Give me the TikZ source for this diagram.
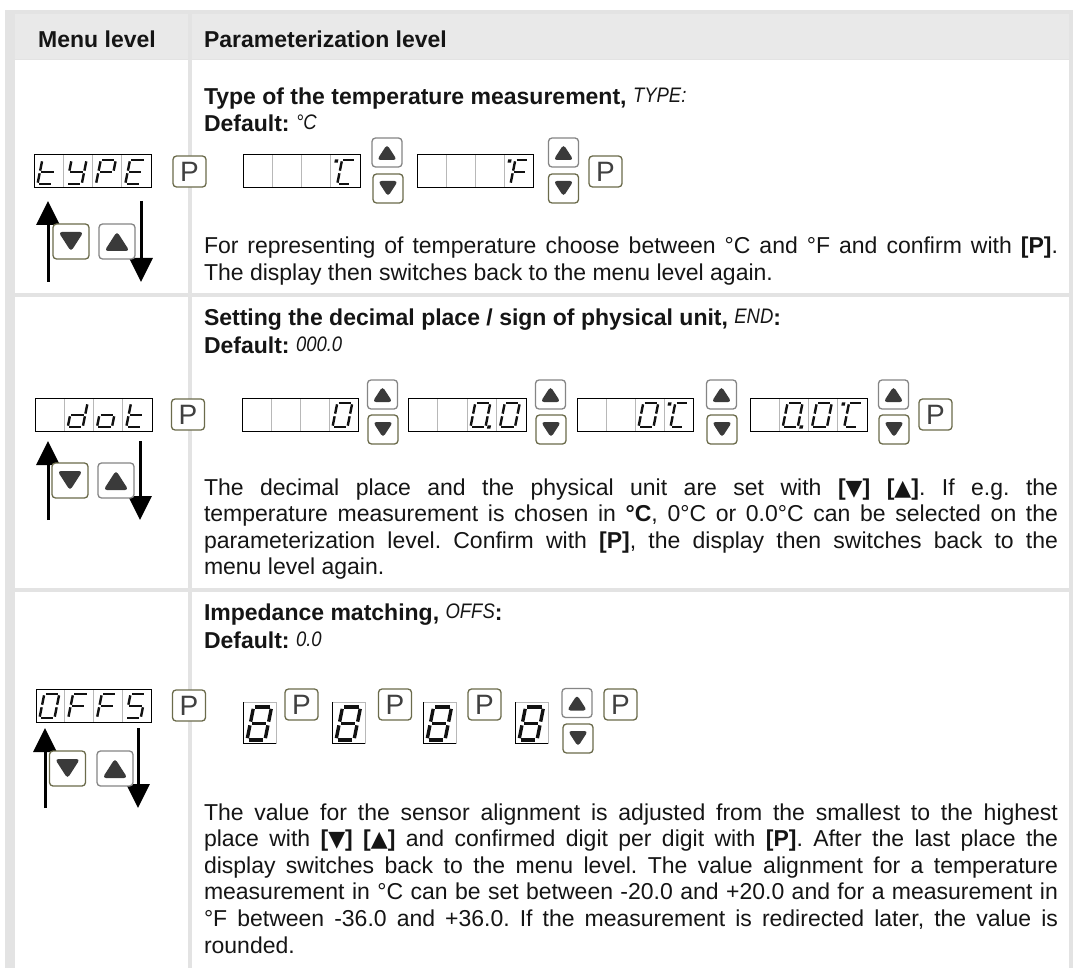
\documentclass[tikz,border=0pt]{standalone}
\usepackage{fontspec}
\setmainfont{Liberation Sans}
\newfontfamily\dvs{DejaVu Sans}
\usetikzlibrary{arrows.meta,calc}
\definecolor{tblgray}{HTML}{E3E3E3}
\definecolor{hdrgray}{HTML}{E9E9E9}
\definecolor{btnol}{HTML}{6B6B4B}
\definecolor{btngr}{HTML}{858585}
\definecolor{trig}{HTML}{3A3A3A}
\definecolor{divg}{HTML}{B8B8B8}
\definecolor{txt}{HTML}{151515}
\definecolor{segcol}{HTML}{111111}
\frenchspacing
\newcommand\fsz{\fontsize{23}{26}\selectfont}
\newcommand\lcd[1]{\raisebox{2pt}{\fontsize{21}{21}\selectfont\mdseries\itshape\scalebox{0.88}[1]{#1}}}
\newcommand\tsym[1]{{\dvs\fontsize{22}{22}\selectfont #1}}
\newcommand\jl[1]{\makebox[854pt][s]{#1}}

% seven segment pieces (local coords, y up)
\def\sgmA{(\gp,\sH) -- (\sW-\gp,\sH)}
\def\sgmB{(\sW,\sH-\gp) -- (\sW,\sH/2+\gp)}
\def\sgmC{(\sW,\sH/2-\gp) -- (\sW,\gp)}
\def\sgmD{(\gp,0) -- (\sW-\gp,0)}
\def\sgmE{(0,\gp) -- (0,\sH/2-\gp)}
\def\sgmF{(0,\sH/2+\gp) -- (0,\sH-\gp)}
\def\sgmG{(\gp,\sH/2) -- (\sW-\gp,\sH/2)}
\def\sgmP{(\sW+3,-0.5) rectangle ++(1,1)}
\def\sgmO{(-6,\sH-1.5) rectangle ++(1,1)}

\newcommand\segchar[6]{%
  \begin{scope}[shift={(#1,#2)},xslant=0.2,x=1pt,y=1pt]
    \def\sW{#3}\def\sH{#4}\pgfmathsetmacro\gp{#5*0.55}
    \foreach \s in {#6}{%
      \expandafter\let\expandafter\thisseg\csname sgm\s\endcsname
      \draw[segcol,line width=#5pt,line cap=butt] \thisseg;}
  \end{scope}}
% character in a 4-cell display: left, right, cell index, bottom, segments
\newcommand\dchar[5]{%
  \pgfmathsetmacro\cx{#1+(#3-1)*(#2-#1)/4+3.5}%
  \segchar{\cx}{#4-4}{15}{24}{2.4}{#5}}
\newcommand\dcharD[5]{%
  \pgfmathsetmacro\cx{#1+(#3-1)*(#2-#1)/4+6.5}%
  \segchar{\cx}{#4-4}{13}{24}{2.4}{#5,O}}
\newcommand\dispbox[5]{%
  \node[dispst,minimum width={#4-#2},minimum height={#5-#3}] (#1) at ({(#2+#4)/2},{(#3+#5)/2}) {};}
\newcommand\digbox[3]{%
  \node[digst] (#1) at ({#2+16.5},{#3+20.5}) {};
  \draw[black,line width=1pt] ({#2},{#3}) -- ({#2},{#3+41}) -- ({#2+33},{#3+41});
  \segchar{#2+4}{#3+38}{18}{33}{3.4}{A,B,C,D,E,F,G}}

\begin{document}
\begin{tikzpicture}[x=1pt,y=-1pt,
  every node/.style={inner sep=0pt,outer sep=0pt},
  hdr/.style={font=\fsz\bfseries,text=txt},
  ttl/.style={anchor=base west,font=\fsz\bfseries,text=txt},
  body/.style={anchor=base west,font=\fsz,text=txt},
  dispst/.style={draw=black,line width=1pt,fill=white,
    path picture={\foreach \i in {1,2,3}{\draw[divg,line width=0.9pt]
      ($(path picture bounding box.north west)!\i/4!(path picture bounding box.north east)$) --
      ($(path picture bounding box.south west)!\i/4!(path picture bounding box.south east)$);}}},
  digst/.style={draw=divg,line width=1pt,fill=white,minimum width=33,minimum height=41},
  btnbase/.style={fill=white,line width=1.3pt,rounded corners=3.5pt},
  pbtn/.style={btnbase,draw=btnol,minimum width=33,minimum height=31,
    font=\fontsize{28}{28}\selectfont,text=black!75},
  upL/.style={btnbase,draw=btngr,minimum width=36,minimum height=35,
    path picture={\fill[trig] ([shift={(-12.5,9.5)}]path picture bounding box.center) --
      ([shift={(12.5,9.5)}]path picture bounding box.center) --
      ([shift={(0,-10)}]path picture bounding box.center) -- cycle;}},
  dnL/.style={btnbase,draw=btnol,minimum width=36,minimum height=35,
    path picture={\fill[trig] ([shift={(-12.5,-9.5)}]path picture bounding box.center) --
      ([shift={(12.5,-9.5)}]path picture bounding box.center) --
      ([shift={(0,10)}]path picture bounding box.center) -- cycle;}},
  upS/.style={btnbase,draw=btngr,minimum width=30,minimum height=29,
    path picture={\fill[trig] ([shift={(-10,7.5)}]path picture bounding box.center) --
      ([shift={(10,7.5)}]path picture bounding box.center) --
      ([shift={(0,-8)}]path picture bounding box.center) -- cycle;}},
  dnS/.style={btnbase,draw=btnol,minimum width=30,minimum height=29,
    path picture={\fill[trig] ([shift={(-10,-7.5)}]path picture bounding box.center) --
      ([shift={(10,-7.5)}]path picture bounding box.center) --
      ([shift={(0,8)}]path picture bounding box.center) -- cycle;}},
  bigarr/.style={line width=3pt,-{Triangle[length=24pt,width=23pt]}}
]
\useasboundingbox (0,0) rectangle (1073,968);
\fill[white] (0,0) rectangle (1073,968);
% table
\fill[tblgray] (5,10) rectangle (1073,968);
\fill[hdrgray] (14.5,14) rectangle (188,59);
\fill[hdrgray] (192,14) rectangle (1069,59);
\fill[white] (14.5,60) rectangle (188,293);
\fill[white] (192,60) rectangle (1069,293);
\fill[white] (14.5,297) rectangle (188,588);
\fill[white] (192,297) rectangle (1069,588);
\fill[white] (14.5,592) rectangle (188,968);
\fill[white] (192,592) rectangle (1069,968);

% header
\node[hdr,anchor=base] (h1) at (97,48) {Menu level};
\node[hdr,anchor=base west] (h2) at (204,48) {Parameterization level};

% ===== Row 1 =====
\node[ttl] (t1) at (204,105) {Type of the temperature measurement, \lcd{TYPE:}};
\node[ttl] (df1) at (204,132) {Default: \lcd{°C}};
\coordinate (u1s) at (48,282); \coordinate (u1e) at (48,201);
\coordinate (d1s) at (141,201); \coordinate (d1e) at (141,282);
\draw[bigarr] (u1s) -- (u1e);
\draw[bigarr] (d1s) -- (d1e);
\node[dnL] (bd1) at (71,241.5) {};
\node[upL] (bu1) at (117,241.5) {};
\dispbox{dtype}{34}{155}{151}{188}
\dchar{34}{151}{1}{188}{D,E,F,G}
\dchar{34}{151}{2}{188}{B,C,D,F,G}
\dchar{34}{151}{3}{188}{A,B,E,F,G}
\dchar{34}{151}{4}{188}{A,D,E,F,G}
\node[pbtn] (p1a) at (189.5,171.5) {P};
\dispbox{dC}{243}{155}{360}{188}
\dcharD{243}{360}{4}{188}{A,D,E,F}
\node[upS] (u1a) at (387,152.5) {};
\node[dnS] (n1a) at (388,188.5) {};
\dispbox{dF}{417}{155}{533}{188}
\dcharD{417}{533}{4}{188}{A,E,F,G}
\node[upS] (u1b) at (563.5,152.5) {};
\node[dnS] (n1b) at (563.5,188.5) {};
\node[pbtn] (p1b) at (605.5,171.5) {P};
\node[body] (b11) at (204,254) {\jl{For representing of temperature choose between °C and °F and confirm with \textbf{[P]}.}};
\node[body] (b12) at (204,280.6) {The display then switches back to the menu level again.};

% ===== Row 2 =====
\node[ttl] (t2) at (204,325) {Setting the decimal place / sign of physical unit, \lcd{END}:};
\node[ttl] (df2) at (204,353) {Default: \lcd{000.0}};
\coordinate (u2s) at (48,520); \coordinate (u2e) at (48,441);
\coordinate (d2s) at (140,441); \coordinate (d2e) at (140,520);
\draw[bigarr] (u2s) -- (u2e);
\draw[bigarr] (d2s) -- (d2e);
\node[dnL] (bd2) at (70,480.5) {};
\node[upL] (bu2) at (116,480.5) {};
\dispbox{ddot}{35}{398}{152}{431}
\dchar{35}{152}{2}{431}{B,C,D,E,G}
\dchar{35}{152}{3}{431}{C,D,E,G}
\dchar{35}{152}{4}{431}{D,E,F,G}
\node[pbtn] (p2a) at (188,414.5) {P};
\dispbox{r2a}{242}{398}{358}{431}
\dchar{242}{358}{4}{431}{A,B,C,D,E,F}
\node[upS] (u2a) at (382.5,394.5) {};
\node[dnS] (n2a) at (383,429.5) {};
\dispbox{r2b}{408}{398}{526}{431}
\dchar{408}{526}{3}{431}{A,B,C,D,E,F,P}
\dchar{408}{526}{4}{431}{A,B,C,D,E,F}
\node[upS] (u2b) at (550.5,394.5) {};
\node[dnS] (n2b) at (551,429.5) {};
\dispbox{r2c}{577}{398}{693}{431}
\dchar{577}{693}{3}{431}{A,B,C,D,E,F}
\dcharD{577}{693}{4}{431}{A,D,E,F}
\node[upS] (u2c) at (721.5,394.5) {};
\node[dnS] (n2c) at (722,429.5) {};
\dispbox{r2d}{750}{398}{867}{431}
\dchar{750}{867}{2}{431}{A,B,C,D,E,F,P}
\dchar{750}{867}{3}{431}{A,B,C,D,E,F}
\dcharD{750}{867}{4}{431}{A,D,E,F}
\node[upS] (u2d) at (893.5,394.5) {};
\node[dnS] (n2d) at (894,429.5) {};
\node[pbtn] (p2b) at (935.5,414.5) {P};
\node[body] (b21) at (204,495) {\jl{The decimal place and the physical unit are set with \textbf{[\tsym{▼}] [\tsym{▲}]}. If e.g. the}};
\node[body] (b22) at (204,521.6) {\jl{temperature measurement is chosen in \textbf{°C}, 0°C or 0.0°C can be selected on the}};
\node[body] (b23) at (204,548.2) {\jl{parameterization level. Confirm with \textbf{[P]}, the display then switches back to the}};
\node[body] (b24) at (204,574.8) {menu level again.};

% ===== Row 3 =====
\node[ttl] (t3) at (204,620) {Impedance matching, \lcd{OFFS}:};
\node[ttl] (df3) at (204,648) {Default: \lcd{0.0}};
\coordinate (u3s) at (45,808); \coordinate (u3e) at (45,728);
\coordinate (d3s) at (138,728); \coordinate (d3e) at (138,808);
\draw[bigarr] (u3s) -- (u3e);
\draw[bigarr] (d3s) -- (d3e);
\node[dnL] (bd3) at (67.5,768.5) {};
\node[upL] (bu3) at (115,768.5) {};
\dispbox{doffs}{36}{689}{151}{722}
\dchar{36}{151}{1}{722}{A,B,C,D,E,F}
\dchar{36}{151}{2}{722}{A,E,F,G}
\dchar{36}{151}{3}{722}{A,E,F,G}
\dchar{36}{151}{4}{722}{A,C,D,F,G}
\node[pbtn] (p3a) at (189,705.5) {P};
\digbox{g1}{243}{702}
\node[pbtn] (p3b) at (301.5,704.5) {P};
\digbox{g2}{332}{702}
\node[pbtn] (p3c) at (395,704.5) {P};
\digbox{g3}{423}{702}
\node[pbtn] (p3d) at (484.5,704.5) {P};
\digbox{g4}{515}{702}
\node[upS] (u3a) at (577,703) {};
\node[dnS] (n3a) at (578,738.5) {};
\node[pbtn] (p3e) at (620.5,704.5) {P};
\node[body] (b31) at (204,820) {\jl{The value for the sensor alignment is adjusted from the smallest to the highest}};
\node[body] (b32) at (204,846.6) {\jl{place with \textbf{[\tsym{▼}] [\tsym{▲}]} and confirmed digit per digit with \textbf{[P]}. After the last place the}};
\node[body] (b33) at (204,873.2) {\jl{display switches back to the menu level. The value alignment for a temperature}};
\node[body] (b34) at (204,899.8) {\jl{measurement in °C can be set between -20.0 and +20.0 and for a measurement in}};
\node[body] (b35) at (204,926.4) {\jl{°F between -36.0 and +36.0. If the measurement is redirected later, the value is}};
\node[body] (b36) at (204,953) {rounded.};
\end{tikzpicture}
\end{document}
